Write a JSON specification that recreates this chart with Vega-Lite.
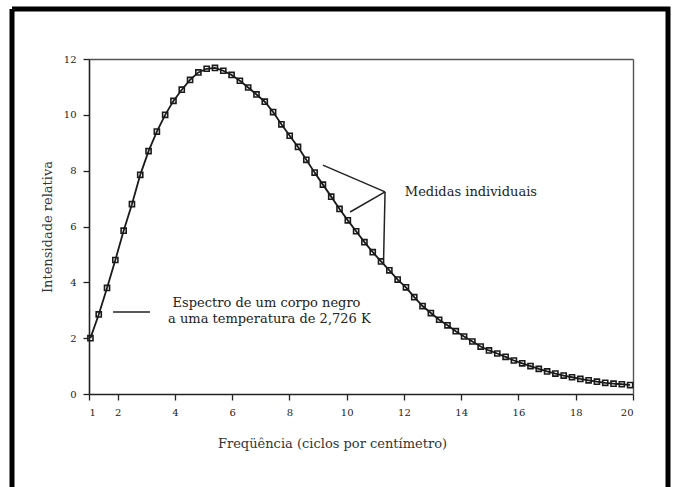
{
  "$schema": "https://vega.github.io/schema/vega-lite/v6.json",
  "width": 656,
  "height": 478,
  "autosize": {"type": "none"},
  "padding": {"left": 12, "top": 9, "right": 5, "bottom": 0},
  "background": "white",
  "config": {
    "view": {"stroke": "#000", "strokeWidth": 5, "strokeDash": [1134, 656, 478, 0]},
    "font": "DejaVu Serif",
    "axis": {
      "labelFont": "DejaVu Serif",
      "titleFont": "DejaVu Serif",
      "labelColor": "#222",
      "titleColor": "#333",
      "titleFontWeight": "normal",
      "grid": false,
      "domainColor": "#222",
      "tickColor": "#222"
    }
  },
  "datasets": {
    "pts": [
      {"freq": 1.05, "intensity": 2.0},
      {"freq": 1.34, "intensity": 2.85},
      {"freq": 1.63, "intensity": 3.8},
      {"freq": 1.92, "intensity": 4.8},
      {"freq": 2.21, "intensity": 5.85},
      {"freq": 2.5, "intensity": 6.8},
      {"freq": 2.79, "intensity": 7.85},
      {"freq": 3.08, "intensity": 8.7},
      {"freq": 3.37, "intensity": 9.4},
      {"freq": 3.66, "intensity": 10.0},
      {"freq": 3.95, "intensity": 10.5},
      {"freq": 4.24, "intensity": 10.9},
      {"freq": 4.53, "intensity": 11.25},
      {"freq": 4.82, "intensity": 11.52},
      {"freq": 5.11, "intensity": 11.65},
      {"freq": 5.4, "intensity": 11.68},
      {"freq": 5.69, "intensity": 11.58},
      {"freq": 5.98, "intensity": 11.43},
      {"freq": 6.27, "intensity": 11.22},
      {"freq": 6.56, "intensity": 10.98},
      {"freq": 6.85, "intensity": 10.73},
      {"freq": 7.14, "intensity": 10.47},
      {"freq": 7.43, "intensity": 10.1},
      {"freq": 7.72, "intensity": 9.66},
      {"freq": 8.01, "intensity": 9.25},
      {"freq": 8.3, "intensity": 8.85},
      {"freq": 8.59, "intensity": 8.39},
      {"freq": 8.88, "intensity": 7.93},
      {"freq": 9.17, "intensity": 7.5},
      {"freq": 9.46, "intensity": 7.07},
      {"freq": 9.75, "intensity": 6.63},
      {"freq": 10.04, "intensity": 6.22},
      {"freq": 10.33, "intensity": 5.83},
      {"freq": 10.62, "intensity": 5.44},
      {"freq": 10.91, "intensity": 5.08},
      {"freq": 11.2, "intensity": 4.75},
      {"freq": 11.49, "intensity": 4.43},
      {"freq": 11.78, "intensity": 4.1},
      {"freq": 12.07, "intensity": 3.82},
      {"freq": 12.36, "intensity": 3.47},
      {"freq": 12.65, "intensity": 3.15},
      {"freq": 12.94, "intensity": 2.9},
      {"freq": 13.23, "intensity": 2.66},
      {"freq": 13.52, "intensity": 2.46},
      {"freq": 13.81, "intensity": 2.25},
      {"freq": 14.1, "intensity": 2.06},
      {"freq": 14.39, "intensity": 1.88},
      {"freq": 14.68, "intensity": 1.7},
      {"freq": 14.97, "intensity": 1.56},
      {"freq": 15.26, "intensity": 1.45},
      {"freq": 15.55, "intensity": 1.33},
      {"freq": 15.84, "intensity": 1.2},
      {"freq": 16.13, "intensity": 1.1},
      {"freq": 16.42, "intensity": 1.0},
      {"freq": 16.71, "intensity": 0.9},
      {"freq": 17.0, "intensity": 0.81},
      {"freq": 17.29, "intensity": 0.73},
      {"freq": 17.58, "intensity": 0.66},
      {"freq": 17.87, "intensity": 0.6},
      {"freq": 18.16, "intensity": 0.54},
      {"freq": 18.45, "intensity": 0.49},
      {"freq": 18.74, "intensity": 0.44},
      {"freq": 19.03, "intensity": 0.4},
      {"freq": 19.32, "intensity": 0.37},
      {"freq": 19.61, "intensity": 0.35},
      {"freq": 19.9, "intensity": 0.32}
    ],
    "ann": [
      {"x0": 9.17, "y0": 8.2, "x1": 11.34, "y1": 7.24},
      {"x0": 10.12, "y0": 6.52, "x1": 11.34, "y1": 7.24},
      {"x0": 11.34, "y0": 7.24, "x1": 11.29, "y1": 4.87},
      {"x0": 1.84, "y0": 2.94, "x1": 3.13, "y1": 2.94}
    ],
    "txt": [
      {"x": 7.2, "y": 3.26, "label": "Espectro de um corpo negro"},
      {"x": 7.3, "y": 2.69, "label": "a uma temperatura de 2,726 K"},
      {"x": 14.34, "y": 7.25, "label": "Medidas individuais"}
    ]
  },
  "layer": [
    {
      "data": {"name": "pts"},
      "mark": {"type": "line", "color": "#1a1a1a", "strokeWidth": 1.8},
      "encoding": {
        "x": {
          "field": "freq",
          "type": "quantitative",
          "scale": {"domain": [1, 20], "range": [77, 621], "nice": false, "zero": false},
          "axis": {
            "orient": "bottom",
            "offset": -93,
            "values": [1, 2, 4, 6, 8, 10, 12, 14, 16, 18, 20],
            "format": "d",
            "tickSize": 6,
            "labelPadding": 7,
            "labelFontSize": 10,
            "domainWidth": 1.6,
            "tickWidth": 1.3,
            "title": "Freqüência (ciclos por centímetro)",
            "titleFontSize": 13,
            "titlePadding": 20,
            "titleX": 320
          }
        },
        "y": {
          "field": "intensity",
          "type": "quantitative",
          "scale": {"domain": [0, 12], "range": [385, 50], "nice": false, "zero": false},
          "axis": {
            "orient": "left",
            "offset": -77,
            "values": [0, 2, 4, 6, 8, 10, 12],
            "format": "d",
            "tickSize": 6,
            "labelPadding": 7,
            "labelFontSize": 10,
            "domainWidth": 1.6,
            "tickWidth": 1.3,
            "title": "Intensidade relativa",
            "titleFontSize": 13,
            "titlePadding": 9
          }
        }
      }
    },
    {
      "data": {"name": "pts"},
      "mark": {"type": "point", "shape": "square", "filled": false, "size": 26, "color": "#1a1a1a", "strokeWidth": 1.6, "opacity": 1},
      "encoding": {
        "x": {"field": "freq", "type": "quantitative", "axis": null},
        "y": {"field": "intensity", "type": "quantitative", "axis": null}
      }
    },
    {
      "data": {"name": "ann"},
      "mark": {"type": "rule", "color": "#222", "strokeWidth": 1.5},
      "encoding": {
        "x": {
          "field": "x0",
          "type": "quantitative",
          "axis": {"orient": "top", "offset": -50, "ticks": false, "labels": false, "title": null, "domainColor": "#555", "domainWidth": 1.4}
        },
        "y": {
          "field": "y0",
          "type": "quantitative",
          "axis": {"orient": "right", "offset": -35, "ticks": false, "labels": false, "title": null, "domainColor": "#555", "domainWidth": 1.4}
        },
        "x2": {"field": "x1"},
        "y2": {"field": "y1"}
      }
    },
    {
      "data": {"name": "txt"},
      "mark": {"type": "text", "font": "DejaVu Serif", "fontSize": 13, "color": "#222", "align": "center", "baseline": "middle"},
      "encoding": {
        "x": {"field": "x", "type": "quantitative", "axis": null},
        "y": {"field": "y", "type": "quantitative", "axis": null},
        "text": {"field": "label", "type": "nominal"}
      }
    }
  ],
  "resolve": {"axis": {"x": "independent", "y": "independent"}}
}
